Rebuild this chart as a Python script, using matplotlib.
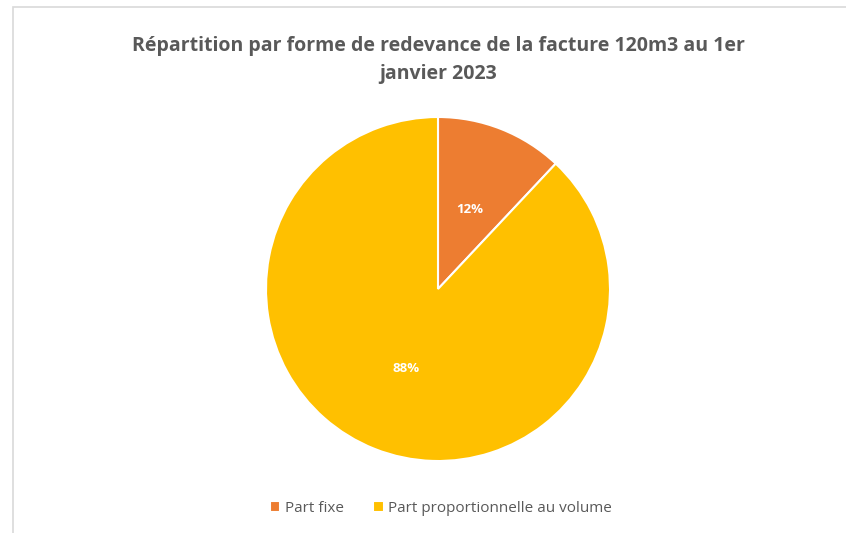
import matplotlib.pyplot as plt
from matplotlib.patches import Rectangle

labels = ["Part fixe", "Part proportionnelle au volume"]
values = [12, 88]
colors = ["#ED7D31", "#FFC000"]
title = "Répartition par forme de redevance de la facture 120m3 au 1er\njanvier 2023"

W, H = 846, 533
fig = plt.figure(figsize=(W / 100, H / 100), dpi=100)

# bordure du graphique
fig.patches.append(Rectangle((13 / W, -0.01), 1.1, (H - 7) / H + 0.01,
                             transform=fig.transFigure, fill=False,
                             edgecolor="#d9d9d9", linewidth=1.2))

r = 172
cx, cy = 438, 289
ax = fig.add_axes([(cx - r) / W, (H - cy - r) / H, 2 * r / W, 2 * r / H])
wedges, texts, autotexts = ax.pie(
    values, colors=colors, startangle=90, counterclock=False,
    autopct="%1.0f%%", pctdistance=0.5,
    wedgeprops=dict(edgecolor="white", linewidth=1.5),
    textprops=dict(color="white", fontsize=9.5, fontweight="bold",
                   family="Open Sans"))
ax.set_xlim(-1, 1)
ax.set_ylim(-1, 1)
ax.set_aspect("equal")

fig.text(cx / W, 1 - 60 / H, title, ha="center", va="center",
         fontsize=14, fontweight="bold", color="#595959",
         family="Open Sans", linespacing=1.55)

fig.legend(wedges, labels, loc="center", bbox_to_anchor=(441 / W, 1 - 508 / H),
           ncol=2, frameon=False, handlelength=0.7, handleheight=0.7,
           handletextpad=0.3, columnspacing=1.9,
           prop=dict(family="Open Sans", size=11), labelcolor="#595959")

fig.savefig("out.png", dpi=100)
